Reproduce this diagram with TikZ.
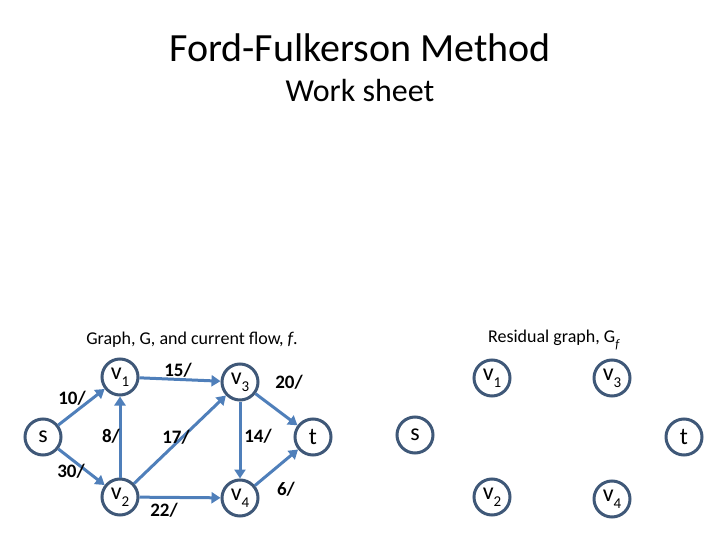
\documentclass[tikz,border=0pt]{standalone}
\usepackage{fontspec}
\setmainfont{Carlito}
\usetikzlibrary{arrows.meta}
\definecolor{nodeline}{HTML}{3F5878}
\definecolor{edgecol}{HTML}{4F7FBA}
\newcommand\vsub[2]{#1\raisebox{-0.3em}{\fontsize{15}{15}\selectfont #2}}
\begin{document}
\begin{tikzpicture}[x=1pt,y=-1pt,
  vert/.style={circle,draw=nodeline,line width=3pt,fill=white,minimum size=36pt,inner sep=0pt,font=\fontsize{24}{24}\selectfont},
  flow/.style={draw=edgecol,line width=3pt,-{Triangle[length=9pt,width=11pt]}},
  elab/.style={font=\bfseries\fontsize{19}{19}\selectfont,inner sep=0pt}]
\useasboundingbox (0,0) rectangle (720,540);
\node[font=\fontsize{40}{40}\selectfont] (title) at (360,48) {Ford-Fulkerson Method};
\node[font=\fontsize{32}{32}\selectfont] (sub) at (360,91) {Work sheet};
\node[font=\fontsize{18}{18}\selectfont] (capL) at (192,340) {Graph, G, and current flow, \textit{f}.};
\node[font=\fontsize{18}{18}\selectfont] (capR) at (554,340) {Residual graph, G\raisebox{-0.3em}{\fontsize{13}{13}\selectfont\textit{f}}};
% left graph
\node[vert] (s) at (43,437) {s};
\node[vert] (v1) at (120,377) {\vsub{v}{1}};
\node[vert] (v2) at (120,497) {\vsub{v}{2}};
\node[vert] (v3) at (240,382) {\vsub{v}{3}};
\node[vert] (v4) at (240,498) {\vsub{v}{4}};
\node[vert] (t) at (313,437) {t};
\draw[flow] (s) -- (v1);
\draw[flow] (s) -- (v2);
\draw[flow] (v1) -- (v3);
\draw[flow] (v2) -- (v1);
\draw[flow] (v2) -- (v3);
\draw[flow] (v2) -- (v4);
\draw[flow] (v3) -- (v4);
\draw[flow] (v3) -- (t);
\draw[flow] (v4) -- (t);
\node[elab] (l1) at (72,398) {10/};
\node[elab] (l2) at (71,471) {30/};
\node[elab] (l3) at (178,370) {15/};
\node[elab] (l4) at (111,436) {8/};
\node[elab] (l5) at (176,437) {17/};
\node[elab] (l6) at (258,436) {14/};
\node[elab] (l7) at (289,382) {20/};
\node[elab] (l8) at (164,510) {22/};
\node[elab] (l9) at (286,489) {6/};
% right graph
\node[vert] (rs) at (415,435) {s};
\node[vert] (rv1) at (492,378) {\vsub{v}{1}};
\node[vert] (rv2) at (492,497) {\vsub{v}{2}};
\node[vert] (rv3) at (612,378) {\vsub{v}{3}};
\node[vert] (rv4) at (612,499) {\vsub{v}{4}};
\node[vert] (rt) at (684,437) {t};
\end{tikzpicture}
\end{document}
